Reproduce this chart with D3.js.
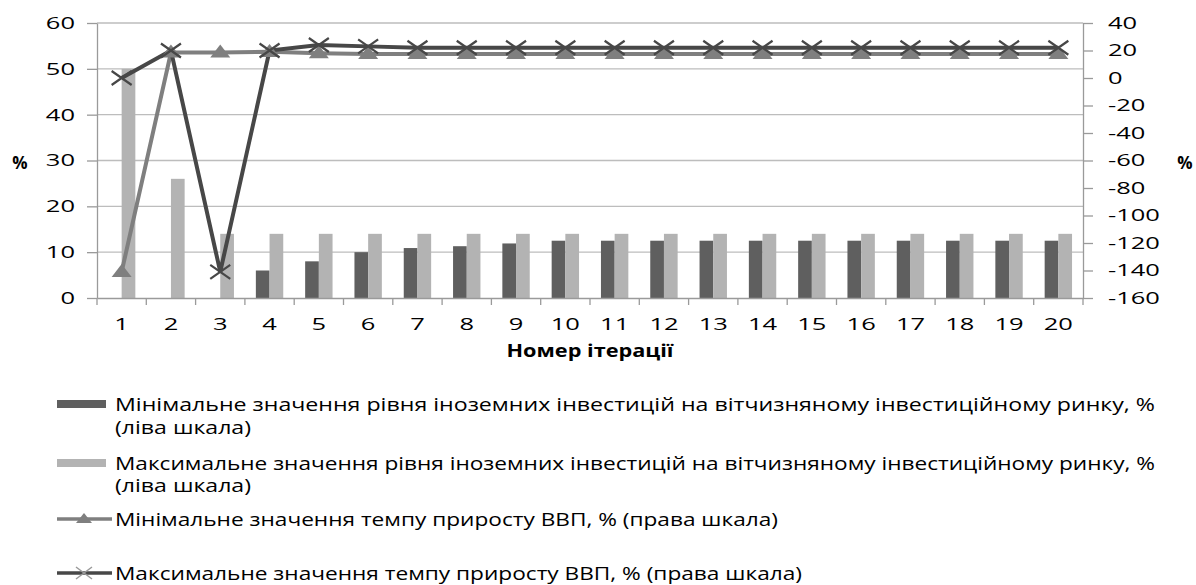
<!DOCTYPE html>
<html><head><meta charset="utf-8">
<script src="https://cdn.jsdelivr.net/npm/d3@7"></script>
<style>body{margin:0;background:#fff}text{font-family:"Open Sans",sans-serif;fill:#000}</style>
</head><body>
<svg id="c" width="1196" height="585"></svg>
<script>
const categories = ["1","2","3","4","5","6","7","8","9","10","11","12","13","14","15","16","17","18","19","20"];
const minInvest = [0,0,0,6,8,10,10.9,11.3,11.9,12.5,12.5,12.5,12.5,12.5,12.5,12.5,12.5,12.5,12.5,12.5];
const maxInvest = [50,26,14,14,14,14,14,14,14,14,14,14,14,14,14,14,14,14,14,14];
const minGdp = [-141,18.5,18.5,19,18,17.5,17.5,17.5,17.5,17.5,17.5,17.5,17.5,17.5,17.5,17.5,17.5,17.5,17.5,17.5];
const maxGdp = [0,20,-141,20,24,23,22,22,22,22,22,22,22,22,22,22,22,22,22,22];
const leftTicks = [0,10,20,30,40,50,60];
const rightTicks = [-160,-140,-120,-100,-80,-60,-40,-20,0,20,40];
const legendLabels = [
 ["Мінімальне значення рівня іноземних інвестицій на вітчизняному інвестиційному ринку, %","(ліва шкала)"],
 ["Максимальне значення рівня іноземних інвестицій на вітчизняному інвестиційному ринку, %","(ліва шкала)"],
 ["Мінімальне значення темпу приросту ВВП, % (права шкала)"],
 ["Максимальне значення темпу приросту ВВП, % (права шкала)"]
];
const xTitle = "Номер ітерації";

const svg = d3.select("#c");
const L=97, R=1083, T=23, B=298;
const cDark="#5f5f5f", cLight="#b3b3b3", cMinLine="#7f7f7f", cMaxLine="#474747";
const x = d3.scaleBand().domain(categories).range([L,R]);
const xi = d3.scaleBand().domain(["min","max"]).range([0,x.bandwidth()]).paddingInner(0).paddingOuter(0.8);
const yL = d3.scaleLinear().domain([0,60]).range([B,T]);
const yR = d3.scaleLinear().domain([-160,40]).range([B,T]);
const SX = 1.5;

// gridlines
svg.append("g").selectAll("line").data(leftTicks.filter(d=>d>0)).join("line")
  .attr("x1",L).attr("x2",R).attr("y1",d=>yL(d)).attr("y2",d=>yL(d))
  .attr("stroke","#bdbdbd").attr("stroke-width",1.3);

// bars
const g = svg.append("g");
g.selectAll("rect.mn").data(minInvest).join("rect").attr("class","mn")
  .attr("x",(d,i)=>x(categories[i])+xi("min")).attr("width",xi.bandwidth())
  .attr("y",d=>yL(d)).attr("height",d=>B-yL(d)).attr("fill",cDark);
g.selectAll("rect.mx").data(maxInvest).join("rect").attr("class","mx")
  .attr("x",(d,i)=>x(categories[i])+xi("max")).attr("width",xi.bandwidth())
  .attr("y",d=>yL(d)).attr("height",d=>B-yL(d)).attr("fill",cLight);

// axes
const axStyle = sel => {
  sel.select(".domain").attr("stroke","#9a9a9a").attr("stroke-width",1.3);
  sel.selectAll(".tick line").attr("stroke","#9a9a9a").attr("stroke-width",1.3);
  sel.selectAll(".tick text").attr("font-size",17).attr("fill","#000");
};
const axL = svg.append("g").attr("transform",`translate(${L},0)`)
  .call(d3.axisLeft(yL).tickValues(leftTicks).tickSize(10).tickSizeOuter(0).tickPadding(22)).call(axStyle);
axL.selectAll(".tick text").attr("transform",`scale(${SX},1)`).attr("x",-22/SX);
const axR = svg.append("g").attr("transform",`translate(${R},0)`)
  .call(d3.axisRight(yR).tickValues(rightTicks).tickSize(10).tickSizeOuter(0).tickPadding(25)).call(axStyle);
axR.selectAll(".tick text").attr("transform",`scale(${SX},1)`).attr("x",25/SX)
  .text(d=>d<0?"-"+Math.abs(d):d);
const axB = svg.append("g").attr("transform",`translate(0,${B})`)
  .call(d3.axisBottom(x).tickSize(0).tickPadding(20)).call(axStyle);
axB.selectAll(".tick text").attr("transform",`scale(${SX},1)`).attr("x",0);
// category boundary ticks
svg.append("g").selectAll("line").data(d3.range(categories.length+1)).join("line")
  .attr("x1",i=>L+i*x.step()).attr("x2",i=>L+i*x.step()).attr("y1",B).attr("y2",B+7)
  .attr("stroke","#9a9a9a").attr("stroke-width",1.3);

// lines
const cx = i => x(categories[i])+x.bandwidth()/2;
const lineGen = d3.line().x((d,i)=>cx(i)).y(d=>yR(d));
svg.append("path").datum(minGdp).attr("d",lineGen).attr("fill","none").attr("stroke",cMinLine).attr("stroke-width",4);
svg.append("path").datum(maxGdp).attr("d",lineGen).attr("fill","none").attr("stroke",cMaxLine).attr("stroke-width",4);
const tri = "M0,-8L10,5L-10,5Z";
svg.append("g").selectAll("path").data(minGdp).join("path")
  .attr("d",tri).attr("transform",(d,i)=>`translate(${cx(i)},${yR(d)})`).attr("fill",cMinLine);
const xm = "M-10,-7L10,7M-10,7L10,-7";
svg.append("g").selectAll("path").data(maxGdp).join("path")
  .attr("d",xm).attr("transform",(d,i)=>`translate(${cx(i)},${yR(d)})`).attr("stroke",cMaxLine).attr("stroke-width",2.2).attr("fill","none");

// axis titles
svg.append("text").attr("x",20).attr("y",169).attr("text-anchor","middle").attr("font-weight","bold").attr("font-size",17).text("%");
svg.append("text").attr("x",1185).attr("y",169).attr("text-anchor","middle").attr("font-weight","bold").attr("font-size",17).text("%");
svg.append("text").attr("x",590).attr("y",357).attr("text-anchor","middle").attr("font-weight","bold").attr("font-size",17)
  .attr("textLength",167).attr("lengthAdjust","spacingAndGlyphs").text(xTitle);

// legend
const lg = svg.append("g");
const rowsY = [[405,428],[464,486],[520],[574]];
const lens = [[1040,136],[1040,136],[663],[687]];
legendLabels.forEach((lines,k)=>{
  lines.forEach((t,j)=>{
    lg.append("text").attr("x",115).attr("y",rowsY[k][j]+6).attr("font-size",18)
      .attr("textLength",lens[k][j]).attr("lengthAdjust","spacingAndGlyphs").text(t);
  });
  const yy = rowsY[k][0]-1;
  if(k<2){
    lg.append("rect").attr("x",57).attr("y",yy-4).attr("width",49).attr("height",8).attr("fill",k===0?cDark:cLight);
  } else {
    const c = k===2?cMinLine:cMaxLine;
    lg.append("line").attr("x1",57).attr("x2",112).attr("y1",yy).attr("y2",yy).attr("stroke",c).attr("stroke-width",3.5);
    if(k===2) lg.append("path").attr("d","M0,-6L8,4L-8,4Z").attr("transform",`translate(84,${yy})`).attr("fill",c);
    else lg.append("path").attr("d","M-8,-6L8,6M-8,6L8,-6").attr("transform",`translate(84,${yy})`).attr("stroke","#9a9a9a").attr("stroke-width",1.5);
  }
});
</script>
</body></html>
